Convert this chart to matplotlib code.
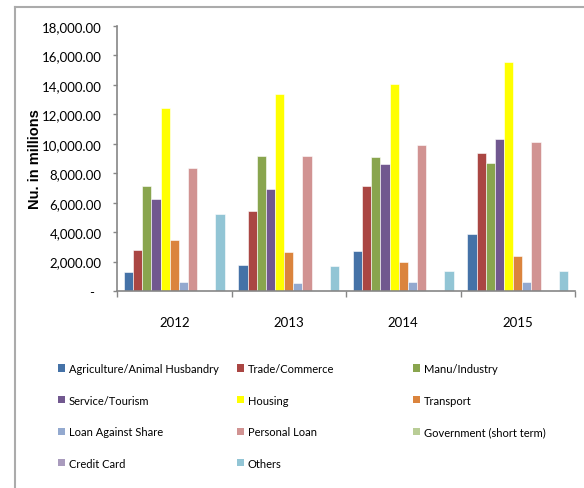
import numpy as np
import matplotlib
matplotlib.use("Agg")
import matplotlib.pyplot as plt
from matplotlib import font_manager
from matplotlib.lines import Line2D
from matplotlib.patches import Patch
from matplotlib.ticker import FuncFormatter, FixedLocator

years = ["2012", "2013", "2014", "2015"]
sectors = ["Agriculture/Animal Husbandry", "Trade/Commerce", "Manu/Industry",
           "Service/Tourism", "Housing", "Transport",
           "Loan Against Share", "Personal Loan", "Government (short term)",
           "Credit Card", "Others"]

# Nu. in millions, one list per sector (2012..2015)
agriculture = [1290, 1780, 2710, 3840]
trade = [2800, 5420, 7110, 9370]
manufacturing = [7110, 9190, 9070, 8710]
service = [6250, 6930, 8620, 10320]
housing = [12460, 13360, 14040, 15550]
transport = [3480, 2620, 1960, 2350]
loan_share = [630, 540, 630, 630]
personal_loan = [8330, 9190, 9930, 10110]
government = [0, 0, 0, 0]
credit_card = [0, 0, 0, 0]
others = [5240, 1670, 1380, 1380]

series = [agriculture, trade, manufacturing, service, housing, transport,
          loan_share, personal_loan, government, credit_card, others]
colors = ["#4572A7", "#AA4643", "#89A54E", "#71588F", "#FFFF00", "#DB843D",
          "#93A9CF", "#D19392", "#B9CD96", "#A99BBD", "#92C5D5"]

# pick the narrowest sans that is around
installed = {f.name for f in font_manager.fontManager.ttflist}
narrow = next(n for n in ["Liberation Sans Narrow", "DejaVu Sans Condensed",
                          "Lato", "DejaVu Sans"] if n in installed)
grey = "#868686"

fig = plt.figure(figsize=(5.84, 4.89), dpi=100)
ax = fig.add_axes([117 / 584, 1 - 292 / 489, 458 / 584, 265 / 489])

x = np.arange(len(years))
w = 1 / 12.5
for i, (vals, c) in enumerate(zip(series, colors)):
    ax.bar(x + (i - 5) * w, vals, w, color=c, edgecolor="white",
           linewidth=0.4, label=sectors[i])

ax.set_xlim(-0.5, len(years) - 0.5)
ax.set_ylim(0, 18000)
ax.yaxis.set_major_locator(FixedLocator(np.arange(0, 18001, 2000)))
# accounting style: zero shows as a dash, padded off the axis
ax.yaxis.set_major_formatter(FuncFormatter(
    lambda v, p: "-\u00a0\u00a0" if v == 0 else f"{v:,.2f}"))

# year labels sit between the boundary ticks
ax.xaxis.set_major_locator(FixedLocator(np.arange(-0.5, len(years), 1)))
ax.xaxis.set_major_formatter(FuncFormatter(lambda v, p: ""))
ax.xaxis.set_minor_locator(FixedLocator(x))
ax.set_xticklabels(years, minor=True)
ax.tick_params(axis="x", which="major", length=4, width=1, color=grey, direction="out")
ax.tick_params(axis="x", which="minor", length=0, pad=18)
ax.tick_params(axis="y", length=3, width=1, color=grey, pad=8)
for lab in ax.get_yticklabels() + ax.get_xticklabels(minor=True):
    lab.set_family(narrow)
    lab.set_fontsize(9.5)

for s in ["top", "right"]:
    ax.spines[s].set_visible(False)
for s in ["left", "bottom"]:
    ax.spines[s].set_color(grey)
    ax.spines[s].set_linewidth(1.2)

ax.set_ylabel("Nu. in millions", family="Liberation Sans", fontweight="bold", fontsize=10.5)
ax.yaxis.set_label_coords(-0.164, 0.5)

# legend laid out as three columns, filled row by row
col_x = [58, 237, 413]
for col in range(3):
    idx = list(range(col, len(series), 3))
    handles = [Patch(facecolor=colors[i], edgecolor="none") for i in idx]
    fig.legend(handles, [sectors[i] for i in idx],
               loc="upper left", bbox_to_anchor=(col_x[col] / 584, 1 - 364 / 489),
               frameon=False, handlelength=0.65, handleheight=0.65,
               handletextpad=0.3, labelspacing=1.85, borderpad=0,
               borderaxespad=0, prop={"family": narrow, "size": 8})

# outer frame, top and left edges only
fig.add_artist(Line2D([15 / 584, 1], [1 - 8 / 489, 1 - 8 / 489],
                      transform=fig.transFigure, color="#ABABAB", lw=1.5))
fig.add_artist(Line2D([15 / 584, 15 / 584], [0, 1 - 8 / 489],
                      transform=fig.transFigure, color="#ABABAB", lw=1.5))

fig.savefig("out.png", dpi=100)
